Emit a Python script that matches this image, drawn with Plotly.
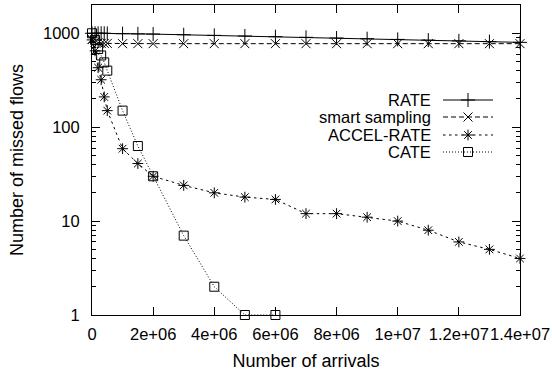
import plotly.graph_objects as go

arrivals = [0, 1e5, 2e5, 3e5, 4e5, 5e5, 1e6, 1.5e6, 2e6, 3e6, 4e6, 5e6, 6e6,
            7e6, 8e6, 9e6, 1e7, 1.1e7, 1.2e7, 1.3e7, 1.4e7]
rate = [1000, 1000, 1000, 1000, 1000, 995, 990, 985, 980, 965, 950, 935, 920,
        905, 890, 875, 860, 845, 830, 815, 800]
smart = [860, 800, 790, 780, 780, 780, 775, 775, 775, 775, 775, 775, 775,
         775, 775, 775, 775, 775, 775, 775, 775]
accel = [850, 650, 430, 320, 210, 150, 59, 41, 30, 24, 20, 18, 17,
         12, 12, 11, 10, 8, 6, 5, 4]
cate = [1000, 850, 680, 580, 490, 400, 150, 63, 30, 7, 2, 1, 1]

series_names = ["RATE", "smart sampling", "ACCEL-RATE", "CATE"]
x_tickvals = [0, 2e6, 4e6, 6e6, 8e6, 1e7, 1.2e7, 1.4e7]
x_ticktext = ["0", "2e+06", "4e+06", "6e+06", "8e+06", "1e+07", "1.2e+07", "1.4e+07"]
y_tickvals = [1, 10, 100, 1000]
y_ticktext = ["1", "10", "100", "1000"]

FONT = "Arial, Liberation Sans, Helvetica, sans-serif"
FS_TITLE = 18
FS_TICK = 16.5
FS_KEY = 16.5
styles = [
    dict(symbol="cross-thin-open", size=10, dash="solid"),
    dict(symbol="x-thin-open", size=9, dash="5px,3px"),
    dict(symbol="asterisk-open", size=9, dash="2.5px,3.5px"),
    dict(symbol="square-open", size=9, dash="1px,2px"),
]
data = [rate, smart, accel, cate]

L, R, T, B = 92, 32, 5, 59
W, H = 552, 374

fig = go.Figure()
for name, ys, st in zip(series_names, data, styles):
    fig.add_trace(go.Scatter(
        x=arrivals[:len(ys)], y=ys, name=name, mode="lines+markers",
        line=dict(color="black", width=1, dash=st["dash"]),
        marker=dict(symbol=st["symbol"], size=st["size"], color="black",
                    line=dict(color="black", width=1)),
        cliponaxis=False, showlegend=False, xaxis="x", yaxis="y"))

# gnuplot-style key (text left, sample right) on an overlay axis in pixel units
leg_rows = [100, 117, 135, 152]
for name, st, yy in zip(series_names, styles, leg_rows):
    fig.add_trace(go.Scatter(
        x=[443, 493], y=[yy, yy], mode="lines",
        line=dict(color="black", width=1, dash=st["dash"]),
        showlegend=False, xaxis="x2", yaxis="y2", hoverinfo="skip"))
    fig.add_trace(go.Scatter(
        x=[468], y=[yy], mode="markers",
        marker=dict(symbol=st["symbol"], size=st["size"], color="black",
                    line=dict(color="black", width=1)),
        showlegend=False, xaxis="x2", yaxis="y2", hoverinfo="skip", cliponaxis=False))
    fig.add_annotation(x=433, y=yy, xref="x2", yref="y2", text=name,
                       showarrow=False, xanchor="right", yanchor="middle",
                       font=dict(family=FONT, size=FS_KEY, color="black"))

fig.update_layout(
    width=W, height=H,
    margin=dict(l=L, r=R, t=T, b=B, autoexpand=False),
    paper_bgcolor="white", plot_bgcolor="white",
    font=dict(family=FONT, size=15, color="black"),
    xaxis=dict(range=[0, 1.4e7], tickvals=x_tickvals, ticktext=x_ticktext,
               tickangle=0, automargin=False,
               ticks="inside", ticklen=8, tickcolor="black", showline=True,
               linecolor="black", linewidth=1, mirror="allticks", showgrid=False,
               zeroline=False, ticklabelstandoff=4,
               title=dict(text="Number of arrivals", standoff=12,
                          font=dict(size=FS_TITLE)),
               tickfont=dict(size=FS_TICK)),
    yaxis=dict(type="log", range=[0, 3.301], tickvals=y_tickvals, ticktext=y_ticktext,
               automargin=False,
               ticks="inside", ticklen=8, tickcolor="black", showline=True,
               linecolor="black", linewidth=1, mirror="allticks", showgrid=False,
               zeroline=False, ticklabelstandoff=8,
               title=dict(text="Number of missed flows", standoff=14,
                          font=dict(size=FS_TITLE)),
               minor=dict(ticks="inside", ticklen=4, tickcolor="black",
                          dtick="D1", showgrid=False),
               tickfont=dict(size=FS_TICK)),
    xaxis2=dict(domain=[0, 1], range=[L, W - R], visible=False, overlaying="x",
                anchor="y2", fixedrange=True),
    yaxis2=dict(domain=[0, 1], range=[H - B, T], visible=False, overlaying="y",
                anchor="x2", fixedrange=True),
)

fig.write_html("out.html", config={"displayModeBar": False},
               post_script="document.body.style.margin='0';document.body.style.padding='0';")
